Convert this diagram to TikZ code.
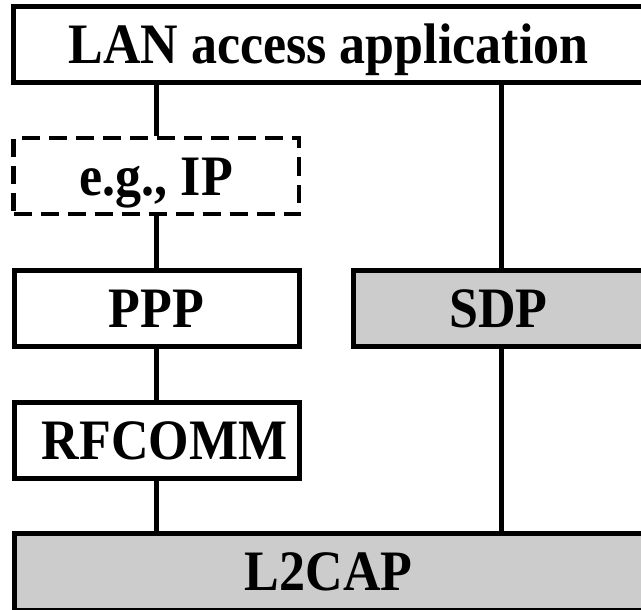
\documentclass[tikz,border=0pt]{standalone}
\usepackage{fontspec}
\setmainfont{Liberation Serif}
\definecolor{boxgray}{HTML}{CCCCCC}
\begin{document}
\begin{tikzpicture}[x=1pt,y=-1pt,
  lay/.style={draw=black, line width=5pt, inner sep=0pt, minimum height=76.5pt,
    text height=38pt, text depth=0pt,
    font=\fontsize{52}{60}\selectfont\bfseries},
  grayfill/.style={fill=boxgray},
  dashbox/.style={dash pattern=on 18pt off 9pt, line width=4.5pt},
  link/.style={line width=5pt}]
\useasboundingbox (0,0) rectangle (641,610);
\clip (0,0) rectangle (641,610);
\node[lay, minimum width=630pt] (app) at (328.5,44.75) {\scalebox{1}[1.1]{LAN access application}};
\node[lay, dashbox, minimum width=285.5pt, minimum height=76pt] (ip) at (156.25,176) {\scalebox{1}[1.1]{e.g., IP}};
\node[lay, minimum width=285pt] (ppp) at (156.5,308.25) {\scalebox{1}[1.1]{PPP}};
\node[lay, minimum width=285pt] (rfc) at (156.5,440.25) {\hspace*{16pt}\scalebox{1}[1.1]{RFCOMM}};
\node[lay, grayfill, minimum width=290pt] (sdp) at (498.5,308.25) {\scalebox{1}[1.1]{SDP}};
\node[lay, grayfill, minimum width=629.5pt] (l2cap) at (328.75,571.75) {\scalebox{1}[1.1]{L2CAP}};
\draw[link] (ip.north) -- (ip.north |- app.south);
\draw[link] (ppp.north) -- (ppp.north |- ip.south);
\draw[link] (rfc.north) -- (rfc.north |- ppp.south);
\draw[link] (rfc.south) -- (rfc.south |- l2cap.north);
\draw[link] ([xshift=3pt]sdp.north) -- ([xshift=3pt]sdp.north |- app.south);
\draw[link] ([xshift=3pt]sdp.south) -- ([xshift=3pt]sdp.south |- l2cap.north);
\end{tikzpicture}
\end{document}
